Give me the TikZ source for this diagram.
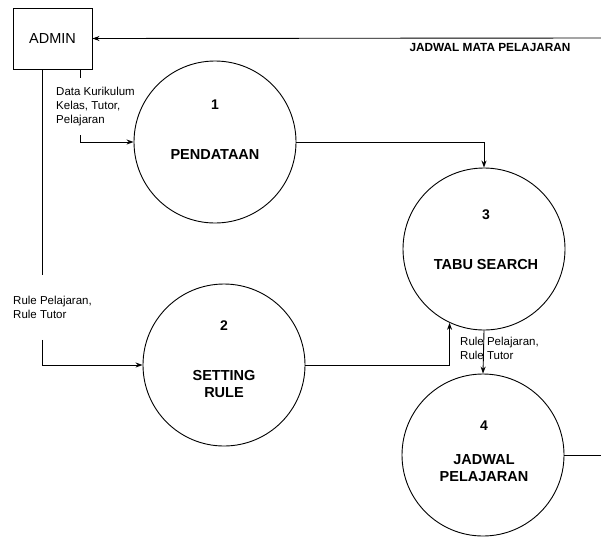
\documentclass[tikz,border=0pt]{standalone}
\usepackage{fontspec}
\setmainfont{Liberation Sans}
\usetikzlibrary{arrows.meta}

\begin{document}
\begin{tikzpicture}[
    x=1pt, y=-1pt,
    entity/.style={rectangle, draw, line width=0.9pt, minimum width=79pt, minimum height=61pt, font=\fontsize{14.5}{16}\selectfont},
    process/.style={circle, draw, line width=0.9pt, minimum size=162pt, inner sep=0pt},
    pnum/.style={font=\fontsize{14}{16}\selectfont\bfseries},
    ptext/.style={align=center, font=\fontsize{14.5}{16.5}\selectfont\bfseries},
    flowlabel/.style={align=left, font=\fontsize{11.5}{14}\selectfont, inner sep=1pt},
    flow/.style={->, >={Stealth[length=7pt,width=5pt]}, line width=0.9pt},
    plain/.style={line width=0.9pt},
]
\useasboundingbox (0,0) rectangle (601,536);

% External entity
\node[entity] (admin) at (52.5,38.5) {ADMIN};

% Processes
\node[process] (p1) at (215,142) {};
\node[pnum] (p1num) at (215,105) {1};
\node[ptext] (p1txt) at (215,155) {PENDATAAN};

\node[process] (p2) at (224,365) {};
\node[pnum] (p2num) at (224,326) {2};
\node[ptext] (p2txt) at (224,384) {SETTING\\RULE};

\node[process] (p3) at (484,249) {};
\node[pnum] (p3num) at (486,215) {3};
\node[ptext] (p3txt) at (486,265) {TABU SEARCH};

\node[process] (p4) at (483,455) {};
\node[pnum] (p4num) at (484,426) {4};
\node[ptext] (p4txt) at (484,468) {JADWAL\\PELAJARAN};

% Flow labels
\node[flowlabel, inner ysep=9pt, anchor=north west] (lbl1) at (55,78) {Data Kurikulum\\Kelas, Tutor,\\Pelajaran};
\node[flowlabel, inner ysep=21pt, anchor=north west] (lbl2) at (12,275) {Rule Pelajaran,\\Rule Tutor};
\node[flowlabel, anchor=north west] (lbl3) at (459,336) {Rule Pelajaran,\\Rule Tutor};
\node[font=\fontsize{11.8}{14}\selectfont\bfseries] (lbl4) at (490,47) {JADWAL MATA PELAJARAN};

% Edge points
\coordinate (a1) at ([xshift=-12pt]admin.south east);
\coordinate (a2) at ([xshift=30pt]admin.south west);
\coordinate (jin) at (601,38);
\coordinate (jout) at (601,455);

% Flows
\draw[plain] (a1) -- (a1 |- lbl1.north);
\draw[flow] (a1 |- lbl1.south) |- (p1.west);
\draw[plain] (a2) -- (a2 |- lbl2.north);
\draw[flow] (a2 |- lbl2.south) |- (p2.west);
\draw[flow] (p1.east) -| (p3.north);
\draw[flow] (p2.east) -| (p3.245);
\draw[flow] (p3.south) -- (p4.north);
\draw[plain] (p4.east) -- (jout);
\draw[flow] (jin) -- (admin.east);

\end{tikzpicture}
\end{document}
